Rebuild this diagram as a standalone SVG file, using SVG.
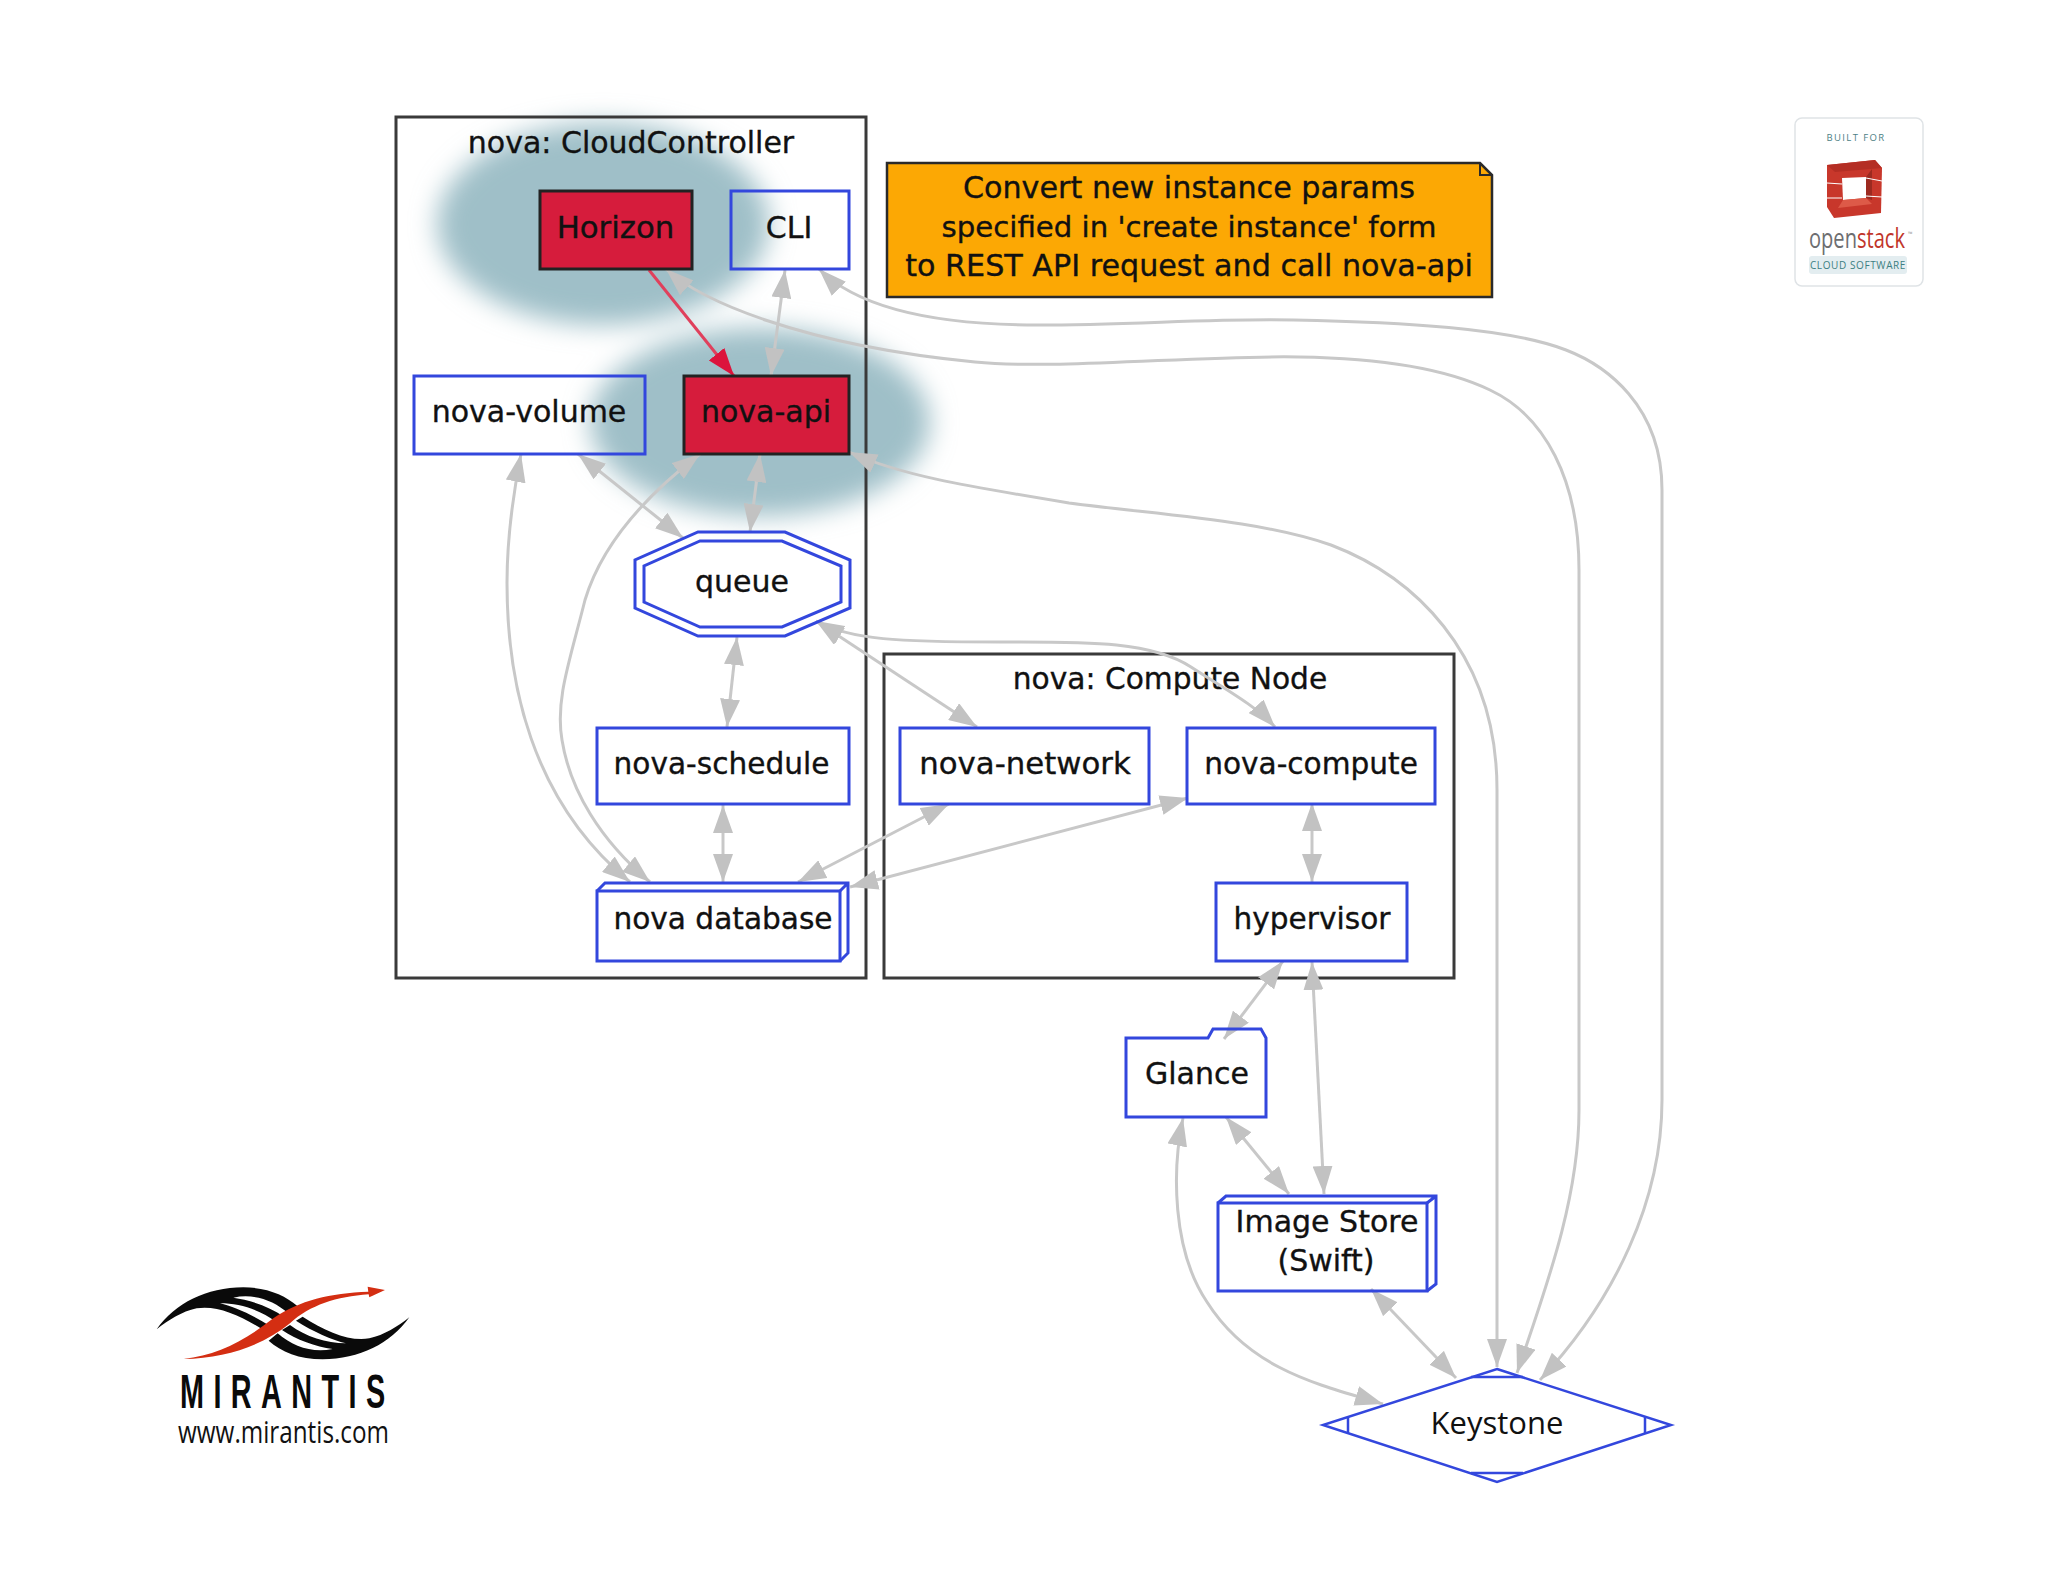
<svg xmlns="http://www.w3.org/2000/svg" width="2048" height="1582" viewBox="0 0 2048 1582">
<style>
.lbl{font-family:"DejaVu Sans","Liberation Sans",sans-serif;font-size:30px;fill:#111;stroke:#111;stroke-width:.35;text-anchor:middle}
.box{fill:none;stroke:#3347dd;stroke-width:3}
.hot{fill:#d61c3c;stroke:#222;stroke-width:3}
.cluster{fill:none;stroke:#3a3a3a;stroke-width:3}
.edge{fill:none;stroke:#c8c8c8;stroke-width:3;marker-start:url(#ah);marker-end:url(#ah)}
</style>
<defs>
<marker id="ah" markerUnits="userSpaceOnUse" markerWidth="28" markerHeight="20" refX="28" refY="10" orient="auto-start-reverse" viewBox="0 0 28 20"><path d="M0,0L28,10L0,20Z" fill="#c2c2c2"/></marker>
<marker id="ar" markerUnits="userSpaceOnUse" markerWidth="28" markerHeight="20" refX="28" refY="10" orient="auto" viewBox="0 0 28 20"><path d="M0,0L28,10L0,20Z" fill="#dc143c"/></marker>
<filter id="blur" x="-25%" y="-35%" width="150%" height="170%"><feGaussianBlur stdDeviation="13"/></filter>
</defs>
<rect width="2048" height="1582" fill="#fff"/>
<g id="highlights" filter="url(#blur)" fill="#9fbfc8">
<ellipse cx="603" cy="224" rx="166" ry="101"/>
<ellipse cx="760" cy="422" rx="170" ry="94"/>
</g>
<g id="cluster-cloud"><rect class="cluster" x="396" y="117" width="470" height="861"/><text class="lbl" x="631" y="153">nova: CloudController</text></g>
<g id="cluster-compute"><rect class="cluster" x="884" y="654" width="570" height="324"/><text class="lbl" x="1170" y="689" style="font-size:29.7px">nova: Compute Node</text></g>
<g id="connectors">
<path class="edge" d="M819,269C845,295 900,325 1038,325C1130,325 1220,318 1294,320C1400,322 1510,328 1566,350C1605,365 1662,405 1662,490L1662,1100C1662,1200 1615,1300 1540,1380"/>
<path class="edge" d="M666,269C700,300 800,345 975,362C1060,370 1200,355 1299,357C1370,358 1440,366 1490,390C1545,416 1579,480 1579,570L1579,1110C1579,1200 1545,1290 1517,1373"/>
<path class="edge" d="M849,452C900,475 960,485 1069,503C1160,515 1260,520 1331,545C1410,575 1497,650 1497,790L1497,1367"/>
<path class="edge" d="M521,454C512,500 507,540 507,583C507,680 530,800 630,882"/>
<path class="edge" d="M700,454C640,500 600,550 585,600C570,660 555,700 562,740C570,790 600,840 650,882"/>
<path class="edge" d="M578,454L683,538"/>
<path class="edge" d="M760,454L750,532"/>
<path class="edge" d="M785,270L771,376"/>
<path d="M649,270L734,376" fill="none" stroke="#e0405c" stroke-width="3" marker-end="url(#ar)"/>
<path class="edge" d="M737,637L727,727"/>
<path class="edge" d="M723,805L723,882"/>
<path class="edge" d="M816,621L977,727"/>
<path class="edge" d="M816,621C850,640 900,642 1000,642C1080,642 1150,640 1191,667C1225,689 1255,705 1275,727"/>
<path class="edge" d="M949,804L798,882"/>
<path class="edge" d="M1188,798L850,887"/>
<path class="edge" d="M1312,803L1312,882"/>
<path class="edge" d="M1283,961L1224,1039"/>
<path class="edge" d="M1312,962L1324,1194"/>
<path class="edge" d="M1226,1117L1289,1194"/>
<path class="edge" d="M1183,1118C1172,1170 1172,1250 1207,1302C1250,1370 1320,1385 1383,1404"/>
<path class="edge" d="M1371,1289L1456,1378"/>
</g>
<g id="horizon"><rect class="hot" x="540" y="191" width="152" height="78"/><text class="lbl" x="615.5" y="238" style="font-size:30.8px">Horizon</text></g>
<g id="cli"><rect class="box" x="731" y="191" width="118" height="78"/><text class="lbl" x="789" y="238">CLI</text></g>
<g id="nova-volume"><rect class="box" x="414" y="376" width="231" height="78"/><text class="lbl" x="529" y="422">nova-volume</text></g>
<g id="nova-api"><rect class="hot" x="684" y="376" width="165" height="78"/><text class="lbl" x="766" y="422">nova-api</text></g>
<g id="queue"><polygon class="box" points="698,532 785,532 850,560 850,608 785,636 698,636 635,608 635,560"/><polygon class="box" points="700,541 782,541 841,566 841,602 782,627 700,627 644,602 644,566"/><text class="lbl" x="742" y="592">queue</text></g>
<g id="nova-schedule"><rect class="box" x="597" y="728" width="252" height="76"/><text class="lbl" x="721.5" y="774" style="font-size:29.6px">nova-schedule</text></g>
<g id="nova-network"><rect class="box" x="900" y="728" width="249" height="76"/><text class="lbl" x="1025" y="774" style="font-size:30.8px">nova-network</text></g>
<g id="nova-compute"><rect class="box" x="1187" y="728" width="248" height="76"/><text class="lbl" x="1311" y="774" style="font-size:29.6px">nova-compute</text></g>
<g id="hypervisor"><rect class="box" x="1216" y="883" width="191" height="78"/><text class="lbl" x="1312" y="929" style="font-size:29.6px">hypervisor</text></g>
<g id="nova-database"><rect class="box" x="597" y="891" width="243" height="70"/><path class="box" d="M597,891L605,883L848,883L848,953L840,961M840,891L848,883"/><text class="lbl" x="723" y="929" style="font-size:29.6px">nova database</text></g>
<g id="glance"><path class="box" d="M1126,1038L1208,1038L1213,1029L1261,1029L1266,1038L1266,1117L1126,1117Z"/><text class="lbl" x="1197" y="1084">Glance</text></g>
<g id="image-store"><rect class="box" x="1218" y="1203" width="209" height="88"/><path class="box" d="M1218,1203L1226,1196L1436,1196L1436,1284L1427,1291M1427,1203L1436,1196"/><text class="lbl" x="1327" y="1232">Image Store</text><text class="lbl" x="1326" y="1271">(Swift)</text></g>
<g id="keystone"><polygon class="box" points="1497,1369 1671,1425 1497,1482 1323,1425" style="fill:#fff;stroke-width:2.5"/><path class="box" d="M1348,1417L1348,1433M1645,1417L1645,1433M1471,1377L1523,1377M1471,1473L1523,1473" style="stroke-width:2.5"/><text x="1497" y="1434" text-anchor="middle" font-family="Open Sans,sans-serif" font-size="31" fill="#111">Keystone</text></g>
<g id="note"><path d="M887,163L1480,163L1492,175L1492,297L887,297Z" fill="#fca804" stroke="#2a2a2a" stroke-width="2.5"/><path d="M1480,163L1480,175L1492,175" fill="none" stroke="#2a2a2a" stroke-width="2"/><text class="lbl" x="1189" y="198" style="font-size:30.2px">Convert new instance params</text><text class="lbl" x="1189" y="237" style="font-size:29.2px">specified in 'create instance' form</text><text class="lbl" x="1189" y="276" style="font-size:30.2px">to REST API request and call nova-api</text></g>
<g id="openstack-badge">
<rect x="1795" y="118" width="128" height="168" rx="7" fill="#fff" stroke="#dfe3e6" stroke-width="1.5"/>
<text x="1856" y="141" text-anchor="middle" font-family="Open Sans,sans-serif" font-size="9.5" letter-spacing="1.4" fill="#4d8184">BUILT FOR</text>
<path d="M1827,165L1875,160L1882,168L1881,213L1834,218L1827,207Z" fill="#c8372b"/>
<path d="M1827,165L1875,160L1882,168L1835,172Z" fill="#b42e24"/>
<path d="M1842,178L1866,177L1866,198L1843,200Z" fill="#fff"/>
<path d="M1866,177L1872,169L1872,200L1866,198Z" fill="#9c2a20"/>
<path d="M1843,200L1866,198L1872,204L1838,208Z" fill="#dd5a48"/>
<path d="M1827,183L1842,184M1827,198L1842,198M1866,178L1882,181M1866,196L1882,197" stroke="#fff" stroke-width="1" fill="none"/>
<text x="1809" y="248" font-family="Open Sans,sans-serif" font-size="28" textLength="96" lengthAdjust="spacingAndGlyphs"><tspan fill="#6d6e71">open</tspan><tspan fill="#c1352a">stack</tspan></text>
<text x="1908" y="236" font-family="Open Sans,sans-serif" font-size="6" fill="#999">™</text>
<rect x="1809" y="256" width="98" height="18" rx="3" fill="#e3edf0"/>
<text x="1858" y="269" text-anchor="middle" font-family="Open Sans,sans-serif" font-size="10" letter-spacing=".6" fill="#3d7f82">CLOUD SOFTWARE</text>
</g>
<g id="mirantis-logo">
<g transform="translate(140,1260) scale(.3333)">
<g id="swoosh"><path d="M50,208C105,130 200,82 310,82C380,82 435,105 472,138L445,160C400,120 340,100 280,113C330,120 390,140 432,170L408,185C360,150 300,130 240,130C280,140 340,165 390,198L370,210C300,165 230,135 170,145C125,155 85,180 50,208Z" fill="#0a0a0a"/></g>
<use href="#swoosh" transform="rotate(180 429 190)"/>
<path d="M130,297C230,285 310,245 400,175C480,120 570,100 685,95L683,80L735,90L688,112L686,103C590,110 510,135 450,190C370,255 260,295 130,297Z" fill="#d42e12"/>
</g>
<text transform="translate(180,1408) scale(.6,1)" font-family="Liberation Sans,sans-serif" font-size="48" font-weight="bold" textLength="342" lengthAdjust="spacing" fill="#0a0a0a">MIRANTIS</text>
<text x="178" y="1443" font-family="Open Sans,sans-serif" font-size="31" textLength="211" lengthAdjust="spacingAndGlyphs" fill="#111">www.mirantis.com</text>
</g>
</svg>
